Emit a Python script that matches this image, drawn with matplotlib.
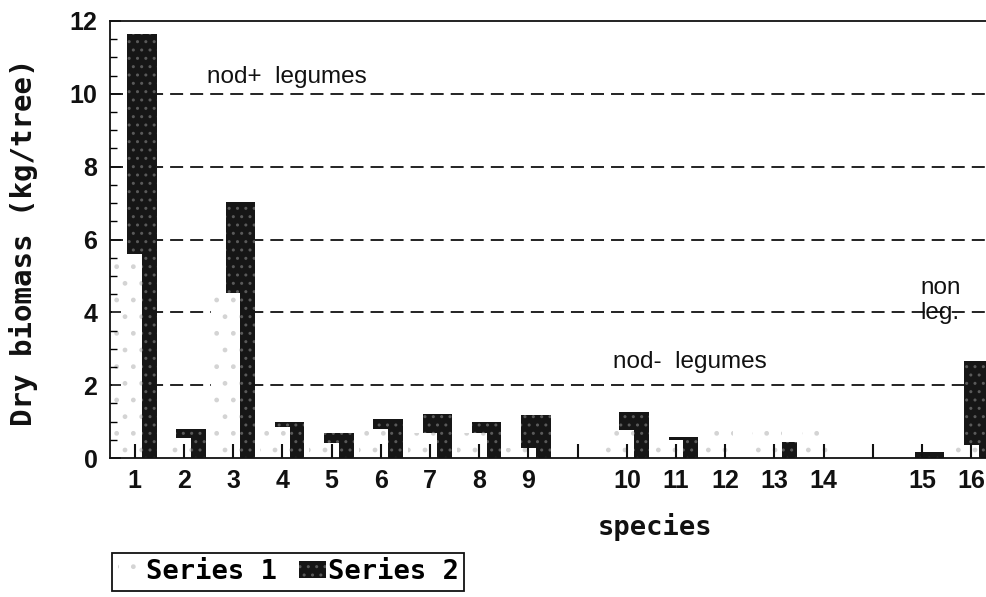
import numpy as np
import matplotlib
matplotlib.use("Agg")
import matplotlib.pyplot as plt
from matplotlib.ticker import MultipleLocator

# data (blank slots are gaps on the axis)
species = ["1", "2", "3", "4", "5", "6", "7", "8", "9", "",
           "10", "11", "12", "13", "14", "", "15", "16"]
series1 = [5.6, 0.54, 4.52, 0.86, 0.40, 0.79, 0.68, 0.68, 0.27, np.nan,
           0.77, 0.49, 0.80, 0.75, 0.85, np.nan, 0.0, 0.36]
series2 = [11.65, 0.79, 7.02, 1.00, 0.70, 1.08, 1.20, 0.98, 1.18, np.nan,
           1.27, 0.57, 0.0, 0.45, 0.0, np.nan, 0.16, 2.65]
y_ticks = [0, 2, 4, 6, 8, 10, 12]

INK = "#111111"
MONO = "DejaVu Sans Mono"
SANS = "Liberation Sans"

fig = plt.figure(figsize=(9.87, 5.97), dpi=100)
fig.patch.set_facecolor("white")
ax = fig.add_axes([110 / 987, 1 - 458 / 597, 886 / 987, 437 / 597])
ax.set_axisbelow(False)  # ticks sit on top of the bars, as in the scan

x = np.arange(len(species))
w = 0.6
b2 = ax.bar(x + 0.15, series2, width=w, color="#161616", edgecolor="#5a5a5a",
            linewidth=0, hatch="..", zorder=1.0, label="Series 2")
b1 = ax.bar(x - 0.15, series1, width=w, color="white", edgecolor="#d4d4d4",
            linewidth=0, hatch=".", zorder=1.2, label="Series 1")

ax.set_xlim(-0.5, len(species) - 0.5)
ax.set_ylim(0, 12)
ax.set_xticks(x)
ax.set_xticklabels(species, fontfamily=SANS, fontweight="bold", fontsize=18)
ax.set_yticks(y_ticks)
ax.set_yticklabels([str(t) for t in y_ticks], fontfamily=SANS,
                   fontweight="bold", fontsize=18)
ax.yaxis.set_minor_locator(MultipleLocator(0.5))
ax.tick_params(axis="x", direction="in", length=10, width=1.5, pad=8, colors=INK)
ax.tick_params(axis="y", which="major", direction="in", length=8, width=1.2,
               pad=9, colors=INK)
ax.tick_params(axis="y", which="minor", direction="in", length=5, width=1.0)
for s in ax.spines.values():
    s.set_linewidth(1.3)
    s.set_color(INK)

for yv in y_ticks[1:-1]:
    ax.axhline(yv, color=INK, linewidth=1.3, linestyle=(0, (7.2, 3.9)), zorder=0.5)

ax.text(1.47, 10.47, "nod+  legumes", fontfamily=SANS, fontsize=17.5,
        ha="left", va="center", color=INK)
ax.text(9.72, 2.64, "nod-  legumes", fontfamily=SANS, fontsize=17.5,
        ha="left", va="center", color=INK)
ax.text(15.96, 4.33, "non\nleg.", fontfamily=SANS, fontsize=17.5,
        ha="left", va="center", color=INK, linespacing=1.15)

fig.text(24 / 987, 1 - 242 / 597, "Dry biomass (kg/tree)", rotation=90,
         fontfamily=MONO, fontweight="bold", fontsize=21,
         ha="center", va="center", color=INK)
fig.text(655 / 987, 1 - 527 / 597, "species", fontfamily=MONO,
         fontweight="bold", fontsize=19.5, ha="center", va="center", color=INK)

leg = fig.legend(handles=[b1, b2], loc="upper left",
                 bbox_to_anchor=(112 / 987, 1 - 553 / 597), ncol=2,
                 frameon=True, fancybox=False, framealpha=1,
                 edgecolor=INK, borderpad=0.22, handlelength=1.0,
                 handleheight=0.55, handletextpad=0.05, columnspacing=0.8,
                 borderaxespad=0,
                 prop={"family": MONO, "weight": "bold", "size": 19.5})
leg.get_frame().set_linewidth(1.3)

fig.savefig("out.png", dpi=100, facecolor="white")
